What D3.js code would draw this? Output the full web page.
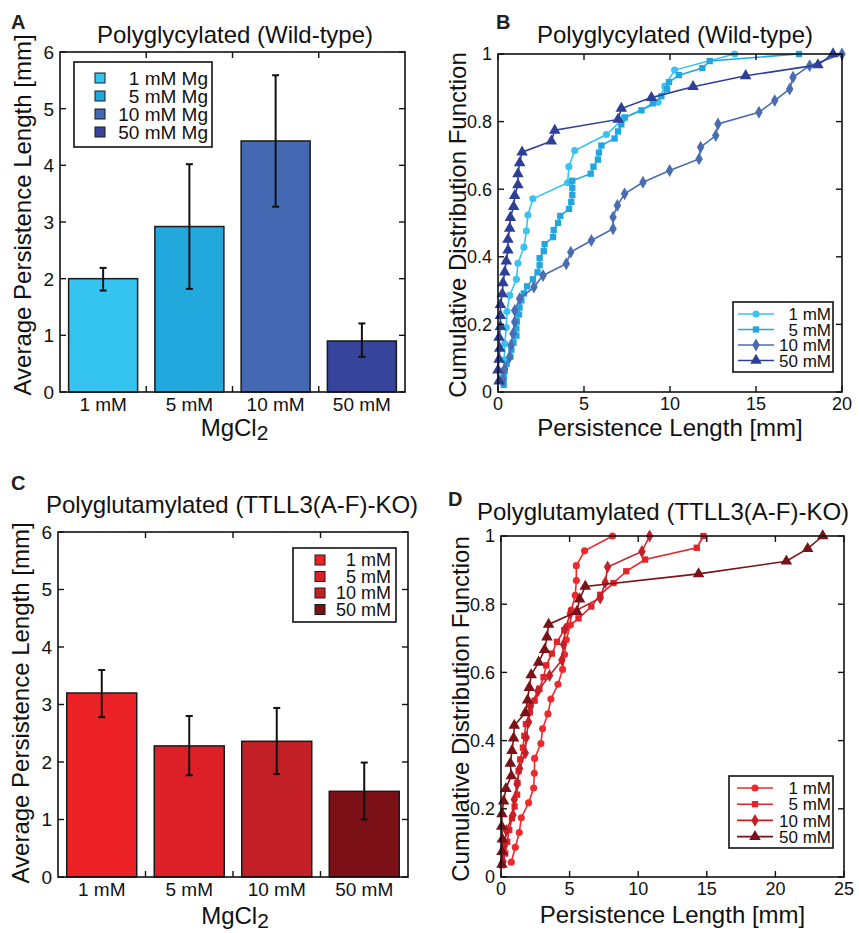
<!DOCTYPE html>
<html>
<head>
<meta charset="utf-8">
<script src="https://cdn.jsdelivr.net/npm/d3@7"></script>
<style>
  html, body { margin: 0; padding: 0; background: #fff; }
  svg { display: block; font-family: "Liberation Sans", Arial, Helvetica, sans-serif; }
</style>
</head>
<body>
<svg id="fig" width="859" height="933"></svg>
<script>
// ---------------- DATA ----------------
const mgCategories = ["1 mM", "5 mM", "10 mM", "50 mM"];
const wtMeans   = [2.0, 2.92, 4.43, 0.9];
const wtErrLow  = [1.79, 1.82, 3.27, 0.62];
const wtErrHigh = [2.19, 4.02, 5.59, 1.21];
const koMeans   = [3.2, 2.28, 2.36, 1.49];
const koErrLow  = [2.78, 1.77, 1.79, 1.0];
const koErrHigh = [3.6, 2.8, 2.94, 1.99];
const barYTicks = [0, 1, 2, 3, 4, 5, 6];
const wtLegendLabels = ["1 mM Mg", "5 mM Mg", "10 mM Mg", "50 mM Mg"];
const koLegendLabels = ["1 mM", "5 mM", "10 mM", "50 mM"];
const cdfLegendLabels = ["1 mM", "5 mM", "10 mM", "50 mM"];
const cdfYTicks = [0, 0.2, 0.4, 0.6, 0.8, 1];
const wtXTicks = [0, 5, 10, 15, 20];
const koXTicks = [0, 5, 10, 15, 20, 25];

// Persistence length samples [mm], in plotted order (lowest CDF rank first)
const wtCdf1mM = [0.33, 0.37, 0.39, 0.48, 0.52, 0.68, 1.07, 1.16, 1.51, 1.65, 1.74, 2.03, 4.05, 4.12, 4.46, 6.3, 7.3, 9.3, 9.7, 10.27, 13.76];
const wtCdf5mM = [0.33, 0.33, 0.39, 0.5, 0.72, 0.78, 0.9, 1.07, 1.07, 1.1, 1.22, 1.25, 1.36, 1.5, 1.69, 2.03, 2.3, 2.42, 2.42, 2.66, 2.71, 3.2, 3.24, 3.49, 3.62, 4.13, 4.26, 4.32, 4.32, 4.32, 5.39, 5.55, 5.81, 5.87, 6.01, 6.78, 6.98, 7.17, 7.37, 8.34, 9.0, 9.5, 9.83, 9.94, 10.52, 11.88, 12.31, 17.5];
const wtCdf10mM = [0.29, 0.39, 0.68, 0.75, 0.87, 0.97, 0.97, 1.26, 2.09, 2.62, 3.97, 4.23, 5.43, 6.69, 6.69, 6.94, 7.36, 8.43, 9.98, 11.69, 11.78, 12.66, 12.79, 15.17, 16.09, 16.96, 17.15, 18.12, 20.0];
const wtCdf50mM = [0.06, 0.0, 0.06, 0.1, 0.06, 0.14, 0.14, 0.14, 0.25, 0.29, 0.39, 0.48, 0.58, 0.58, 0.68, 0.72, 0.91, 0.97, 1.16, 1.16, 1.26, 1.4, 3.1, 3.3, 6.98, 7.17, 8.92, 11.34, 14.4, 18.6, 19.48];

const koCdf1mM = [0.75, 1.04, 1.33, 1.48, 2.01, 2.38, 2.43, 2.45, 2.91, 3.03, 3.42, 3.64, 4.15, 4.49, 4.63, 4.76, 5.05, 5.12, 5.41, 5.49, 5.49, 6.09, 8.13];
const koCdf5mM = [0.07, 0.31, 0.45, 0.6, 0.8, 0.99, 1.17, 1.2, 1.28, 1.4, 1.6, 1.7, 1.82, 2.1, 2.45, 2.8, 3.1, 3.3, 3.71, 4.08, 4.61, 5.65, 6.58, 7.23, 8.2, 9.13, 10.5, 14.27, 14.76];
const koCdf10mM = [0.15, 0.24, 0.39, 0.87, 0.97, 1.17, 1.36, 1.77, 1.84, 2.01, 2.14, 2.69, 3.54, 4.44, 4.56, 4.68, 5.05, 7.23, 7.6, 7.77, 10.27, 10.83];
const koCdf50mM = [0.07, 0.07, 0.1, 0.05, 0.07, 0.19, 0.36, 0.75, 0.68, 0.8, 0.92, 0.97, 1.77, 1.94, 2.06, 2.2, 2.74, 3.18, 3.35, 3.47, 5.53, 5.73, 6.14, 14.4, 20.8, 22.35, 23.45];

// ---------------- STYLE ----------------
const blueBar  = ["#35C4F0", "#23A8DE", "#4468B1", "#36459B"];
const blueLine = ["#3AC3F0", "#22A6DD", "#4A6CB2", "#2E3F97"];
const redBar   = ["#EC2227", "#DD1F27", "#C21F26", "#7B1017"];
const redLine  = ["#EE2A2D", "#E2232A", "#C71F28", "#7A1218"];
const markerTypes = [d3.symbolCircle, d3.symbolSquare, d3.symbolDiamond, d3.symbolTriangle];
const markerSizes = [40, 40, 48, 58];

const svg = d3.select("#fig");
const TICK = 6;
const TICK_FS = 19, CDF_TICK_FS = 18, CDF_LEG_FS = 17, LABEL_FS = 24, TITLE_FS = 24;

function panelLetter(t, x, y) {
  svg.append("text").attr("x", x).attr("y", y).attr("font-size", 20)
    .attr("font-weight", "bold").attr("fill", "#231F20").text(t);
}
function title(t, x, y, anchor) {
  svg.append("text").attr("x", x).attr("y", y).attr("font-size", TITLE_FS)
    .attr("text-anchor", anchor || "middle").attr("fill", "#111").text(t);
}
function yLabel(t, x, y) {
  svg.append("text").attr("transform", `translate(${x},${y}) rotate(-90)`)
    .attr("font-size", LABEL_FS).attr("text-anchor", "middle").attr("fill", "#111").text(t);
}
function box(g, w, h) {
  g.append("rect").attr("x", 0).attr("y", 0).attr("width", w).attr("height", h)
    .attr("fill", "none").attr("stroke", "#111").attr("stroke-width", 1.6);
}
function yTicksLR(g, y, ticks, w, fmt, fs) {
  ticks.forEach(v => {
    g.append("line").attr("x1", 0).attr("x2", TICK).attr("y1", y(v)).attr("y2", y(v))
      .attr("stroke", "#111").attr("stroke-width", 1.4);
    g.append("line").attr("x1", w).attr("x2", w - TICK).attr("y1", y(v)).attr("y2", y(v))
      .attr("stroke", "#111").attr("stroke-width", 1.4);
    g.append("text").attr("x", -6).attr("y", y(v)).attr("dy", "0.36em")
      .attr("text-anchor", "end").attr("font-size", fs).attr("fill", "#111").text(fmt(v));
  });
}

// ---------------- BAR PANELS ----------------
function barPanel(cfg) {
  const { left, top, width, height, means, lo, hi, colors } = cfg;
  const g = svg.append("g").attr("transform", `translate(${left},${top})`);
  const x = d3.scaleBand().domain(mgCategories).range([0, width]).paddingInner(0.2).paddingOuter(0.1);
  const y = d3.scaleLinear().domain([0, 6]).range([height, 0]);

  g.selectAll("rect.bar").data(mgCategories).join("rect").attr("class", "bar")
    .attr("x", d => x(d)).attr("width", x.bandwidth())
    .attr("y", (d, i) => y(means[i])).attr("height", (d, i) => y(0) - y(means[i]))
    .attr("fill", (d, i) => colors[i]).attr("stroke", "#1a1a1a").attr("stroke-width", 1.5);

  // error bars
  mgCategories.forEach((c, i) => {
    const cx = x(c) + x.bandwidth() / 2;
    g.append("line").attr("x1", cx).attr("x2", cx).attr("y1", y(lo[i])).attr("y2", y(hi[i]))
      .attr("stroke", "#111").attr("stroke-width", 2);
    [lo[i], hi[i]].forEach(v => g.append("line").attr("x1", cx - 3.5).attr("x2", cx + 3.5)
      .attr("y1", y(v)).attr("y2", y(v)).attr("stroke", "#111").attr("stroke-width", 2));
  });

  box(g, width, height);
  yTicksLR(g, y, barYTicks, width, d => d, TICK_FS);

  // x ticks at category boundaries (top & bottom, inward)
  mgCategories.slice(0, -1).forEach(c => {
    const bx = x(c) + x.bandwidth() + x.step() * x.paddingInner() / 2;
    g.append("line").attr("x1", bx).attr("x2", bx).attr("y1", height).attr("y2", height - TICK)
      .attr("stroke", "#111").attr("stroke-width", 1.4);
    g.append("line").attr("x1", bx).attr("x2", bx).attr("y1", 0).attr("y2", TICK)
      .attr("stroke", "#111").attr("stroke-width", 1.4);
  });
  mgCategories.forEach(c => {
    g.append("text").attr("x", x(c) + x.bandwidth() / 2).attr("y", height + 19)
      .attr("text-anchor", "middle").attr("font-size", TICK_FS).attr("fill", "#111").text(c);
  });
  // MgCl2 label
  const t = g.append("text").attr("x", width / 2 + 2).attr("y", cfg.xLabelY)
    .attr("text-anchor", "middle").attr("font-size", LABEL_FS).attr("fill", "#111");
  t.append("tspan").text("MgCl");
  t.append("tspan").attr("dy", 4).attr("font-size", 21).text("2");

  // legend
  const L = cfg.legend;
  g.append("rect").attr("x", L.x).attr("y", L.y).attr("width", L.w).attr("height", L.h)
    .attr("fill", "#fff").attr("stroke", "#111").attr("stroke-width", 1.6);
  cfg.legendLabels.forEach((lab, i) => {
    const cy = L.y + L.first + i * L.step;
    g.append("rect").attr("x", L.sx).attr("y", cy - 5).attr("width", 10).attr("height", 10)
      .attr("fill", colors[i]).attr("stroke", "#1a1a1a").attr("stroke-width", 1);
    g.append("text").attr("x", L.tx).attr("y", cy).attr("dy", "0.36em").attr("text-anchor", "end")
      .attr("font-size", L.fs).attr("fill", "#111").text(lab);
  });
  return g;
}

// ---------------- CDF PANELS ----------------
function cdfPanel(cfg) {
  const { left, top, width, height, xmax, xticks, series, colors } = cfg;
  const g = svg.append("g").attr("transform", `translate(${left},${top})`);
  const x = d3.scaleLinear().domain([0, xmax]).range([0, width]);
  const y = d3.scaleLinear().domain([0, 1]).range([height, 0]);
  const line = d3.line().x(d => x(d[0])).y(d => y(d[1]));

  series.forEach((vals, s) => {
    const pts = vals.map((v, i) => [v, (i + 1) / vals.length]);
    g.append("path").datum(pts).attr("d", line).attr("fill", "none")
      .attr("stroke", colors[s]).attr("stroke-width", 1.6);
    g.selectAll(null).data(pts).join("path")
      .attr("transform", d => `translate(${x(d[0])},${y(d[1])})`)
      .attr("d", d3.symbol().type(markerTypes[s]).size(markerSizes[s]))
      .attr("fill", colors[s]);
  });

  box(g, width, height);
  yTicksLR(g, y, cdfYTicks, width, d => d, CDF_TICK_FS);
  xticks.forEach(v => {
    g.append("line").attr("x1", x(v)).attr("x2", x(v)).attr("y1", height).attr("y2", height - TICK)
      .attr("stroke", "#111").attr("stroke-width", 1.4);
    g.append("line").attr("x1", x(v)).attr("x2", x(v)).attr("y1", 0).attr("y2", TICK)
      .attr("stroke", "#111").attr("stroke-width", 1.4);
    g.append("text").attr("x", x(v)).attr("y", height + 18).attr("text-anchor", "middle")
      .attr("font-size", CDF_TICK_FS).attr("fill", "#111").text(v);
  });
  g.append("text").attr("x", width / 2).attr("y", cfg.xLabelY).attr("text-anchor", "middle")
    .attr("font-size", LABEL_FS).attr("fill", "#111").text("Persistence Length [mm]");

  // legend
  const L = cfg.legend;
  g.append("rect").attr("x", L.x).attr("y", L.y).attr("width", L.w).attr("height", L.h)
    .attr("fill", "#fff").attr("stroke", "#111").attr("stroke-width", 1.6);
  cdfLegendLabels.forEach((lab, i) => {
    const cy = L.y + L.first + i * L.step;
    g.append("line").attr("x1", L.lx).attr("x2", L.lx + 36).attr("y1", cy).attr("y2", cy)
      .attr("stroke", colors[i]).attr("stroke-width", 1.6);
    g.append("path").attr("transform", `translate(${L.lx + 18},${cy})`)
      .attr("d", d3.symbol().type(markerTypes[i]).size(markerSizes[i])).attr("fill", colors[i]);
    g.append("text").attr("x", L.tx).attr("y", cy).attr("dy", "0.36em").attr("text-anchor", "end")
      .attr("font-size", CDF_LEG_FS).attr("fill", "#111").text(lab);
  });
  return g;
}

// Panel A
panelLetter("A", 11, 29);
title("Polyglycylated (Wild-type)", 235, 43);
yLabel("Average Persistence Length [mm]", 31, 215);
barPanel({ left: 60, top: 52, width: 345, height: 340, means: wtMeans, lo: wtErrLow, hi: wtErrHigh,
  colors: blueBar, legendLabels: wtLegendLabels, xLabelY: 384,
  legend: { x: 14, y: 10, w: 138, h: 85, sx: 35, tx: 148, first: 16, step: 18, fs: 19 } });

// Panel B
panelLetter("B", 496, 29);
title("Polyglycylated (Wild-type)", 675, 43);
yLabel("Cumulative Distribution Function", 466, 225);
cdfPanel({ left: 498, top: 54, width: 344, height: 338, xmax: 20, xticks: wtXTicks,
  series: [wtCdf1mM, wtCdf5mM, wtCdf10mM, wtCdf50mM], colors: blueLine, xLabelY: 382,
  legend: { x: 235, y: 248, w: 100, h: 70, lx: 240, tx: 333, first: 12, step: 15.5 } });

// Panel C
panelLetter("C", 11, 490);
title("Polyglutamylated (TTLL3(A-F)-KO)", 232, 513);
yLabel("Average Persistence Length [mm]", 29, 703);
barPanel({ left: 58, top: 532, width: 350, height: 345, means: koMeans, lo: koErrLow, hi: koErrHigh,
  colors: redBar, legendLabels: koLegendLabels, xLabelY: 392,
  legend: { x: 235, y: 16, w: 103, h: 74, sx: 257, tx: 333, first: 12, step: 16.5, fs: 18 } });

// Panel D
panelLetter("D", 448, 506);
title("Polyglutamylated (TTLL3(A-F)-KO)", 663, 520);
yLabel("Cumulative Distribution Function", 469, 709);
cdfPanel({ left: 501, top: 536, width: 343, height: 341, xmax: 25, xticks: koXTicks,
  series: [koCdf1mM, koCdf5mM, koCdf10mM, koCdf50mM], colors: redLine, xLabelY: 387,
  legend: { x: 228, y: 240, w: 104, h: 72, lx: 236, tx: 330, first: 12, step: 16.2 } });
</script>
</body>
</html>
